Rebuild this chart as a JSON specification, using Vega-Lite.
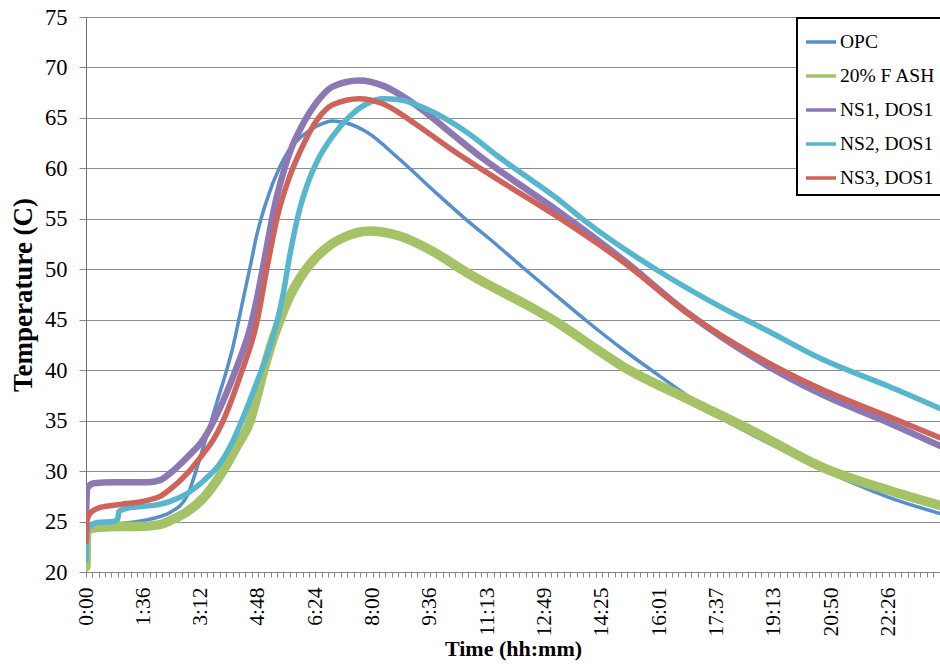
{
  "$schema": "https://vega.github.io/schema/vega-lite/v6.json",
  "width": 854,
  "height": 555,
  "autosize": {"type": "none"},
  "padding": {"left": 86, "top": 17, "right": 0, "bottom": 94},
  "background": "white",
  "config": {"view": {"stroke": null}, "font": "Liberation Serif"},
  "data": {"values": [
    {"series": "OPC", "t": 0, "temp": 23.3}, {"series": "OPC", "t": 4, "temp": 24.2}, {"series": "OPC", "t": 29, "temp": 24.6}, {"series": "OPC", "t": 58, "temp": 24.8}, {"series": "OPC", "t": 86, "temp": 25.0}, {"series": "OPC", "t": 124, "temp": 25.5}, {"series": "OPC", "t": 141, "temp": 25.9}, {"series": "OPC", "t": 170, "temp": 27.6}, {"series": "OPC", "t": 183, "temp": 29.8}, {"series": "OPC", "t": 196, "temp": 32.3}, {"series": "OPC", "t": 208, "temp": 34.6}, {"series": "OPC", "t": 220, "temp": 37.0}, {"series": "OPC", "t": 230, "temp": 38.9}, {"series": "OPC", "t": 246, "temp": 42.3}, {"series": "OPC", "t": 263, "temp": 47.0}, {"series": "OPC", "t": 275, "temp": 50.3}, {"series": "OPC", "t": 286, "temp": 53.4}, {"series": "OPC", "t": 303, "temp": 56.9}, {"series": "OPC", "t": 325, "temp": 60.2}, {"series": "OPC", "t": 341, "temp": 61.9}, {"series": "OPC", "t": 358, "temp": 63.0}, {"series": "OPC", "t": 387, "temp": 64.2}, {"series": "OPC", "t": 413, "temp": 64.7}, {"series": "OPC", "t": 442, "temp": 64.4}, {"series": "OPC", "t": 470, "temp": 63.6}, {"series": "OPC", "t": 525, "temp": 60.9}, {"series": "OPC", "t": 580, "temp": 57.9}, {"series": "OPC", "t": 637, "temp": 54.9}, {"series": "OPC", "t": 676, "temp": 53.0}, {"series": "OPC", "t": 731, "temp": 50.2}, {"series": "OPC", "t": 787, "temp": 47.4}, {"series": "OPC", "t": 842, "temp": 44.7}, {"series": "OPC", "t": 898, "temp": 42.1}, {"series": "OPC", "t": 954, "temp": 39.7}, {"series": "OPC", "t": 1009, "temp": 37.4}, {"series": "OPC", "t": 1065, "temp": 35.2}, {"series": "OPC", "t": 1122, "temp": 33.4}, {"series": "OPC", "t": 1176, "temp": 31.8}, {"series": "OPC", "t": 1232, "temp": 30.2}, {"series": "OPC", "t": 1289, "temp": 28.7}, {"series": "OPC", "t": 1344, "temp": 27.4}, {"series": "OPC", "t": 1430, "temp": 25.8},

    {"series": "20% F ASH", "t": 0, "temp": 20.5}, {"series": "20% F ASH", "t": 1, "temp": 23.8}, {"series": "20% F ASH", "t": 4, "temp": 24.2}, {"series": "20% F ASH", "t": 19, "temp": 24.4}, {"series": "20% F ASH", "t": 58, "temp": 24.5}, {"series": "20% F ASH", "t": 86, "temp": 24.5}, {"series": "20% F ASH", "t": 124, "temp": 24.7}, {"series": "20% F ASH", "t": 141, "temp": 25.1}, {"series": "20% F ASH", "t": 170, "temp": 26.0}, {"series": "20% F ASH", "t": 196, "temp": 27.3}, {"series": "20% F ASH", "t": 225, "temp": 29.6}, {"series": "20% F ASH", "t": 253, "temp": 32.5}, {"series": "20% F ASH", "t": 275, "temp": 35.0}, {"series": "20% F ASH", "t": 286, "temp": 37.3}, {"series": "20% F ASH", "t": 296, "temp": 39.6}, {"series": "20% F ASH", "t": 310, "temp": 42.5}, {"series": "20% F ASH", "t": 325, "temp": 45.0}, {"series": "20% F ASH", "t": 341, "temp": 47.3}, {"series": "20% F ASH", "t": 358, "temp": 49.1}, {"series": "20% F ASH", "t": 375, "temp": 50.5}, {"series": "20% F ASH", "t": 400, "temp": 52.0}, {"series": "20% F ASH", "t": 433, "temp": 53.2}, {"series": "20% F ASH", "t": 475, "temp": 53.8}, {"series": "20% F ASH", "t": 525, "temp": 53.3}, {"series": "20% F ASH", "t": 580, "temp": 51.8}, {"series": "20% F ASH", "t": 637, "temp": 49.7}, {"series": "20% F ASH", "t": 676, "temp": 48.4}, {"series": "20% F ASH", "t": 731, "temp": 46.7}, {"series": "20% F ASH", "t": 787, "temp": 44.8}, {"series": "20% F ASH", "t": 842, "temp": 42.6}, {"series": "20% F ASH", "t": 898, "temp": 40.4}, {"series": "20% F ASH", "t": 1009, "temp": 37.1}, {"series": "20% F ASH", "t": 1122, "temp": 33.8}, {"series": "20% F ASH", "t": 1232, "temp": 30.4}, {"series": "20% F ASH", "t": 1344, "temp": 28.1}, {"series": "20% F ASH", "t": 1430, "temp": 26.6},

    {"series": "NS1, DOS1", "t": 0, "temp": 25.9}, {"series": "NS1, DOS1", "t": 1, "temp": 27.4}, {"series": "NS1, DOS1", "t": 2, "temp": 28.3}, {"series": "NS1, DOS1", "t": 13, "temp": 28.8}, {"series": "NS1, DOS1", "t": 46, "temp": 28.9}, {"series": "NS1, DOS1", "t": 103, "temp": 28.9}, {"series": "NS1, DOS1", "t": 124, "temp": 29.1}, {"series": "NS1, DOS1", "t": 141, "temp": 29.8}, {"series": "NS1, DOS1", "t": 170, "temp": 31.4}, {"series": "NS1, DOS1", "t": 196, "temp": 33.1}, {"series": "NS1, DOS1", "t": 208, "temp": 34.3}, {"series": "NS1, DOS1", "t": 220, "temp": 35.7}, {"series": "NS1, DOS1", "t": 253, "temp": 40.4}, {"series": "NS1, DOS1", "t": 275, "temp": 44.2}, {"series": "NS1, DOS1", "t": 291, "temp": 48.5}, {"series": "NS1, DOS1", "t": 303, "temp": 52.3}, {"series": "NS1, DOS1", "t": 316, "temp": 56.3}, {"series": "NS1, DOS1", "t": 330, "temp": 59.5}, {"series": "NS1, DOS1", "t": 346, "temp": 62.3}, {"series": "NS1, DOS1", "t": 358, "temp": 63.8}, {"series": "NS1, DOS1", "t": 387, "temp": 66.6}, {"series": "NS1, DOS1", "t": 413, "temp": 68.1}, {"series": "NS1, DOS1", "t": 458, "temp": 68.7}, {"series": "NS1, DOS1", "t": 497, "temp": 68.2}, {"series": "NS1, DOS1", "t": 554, "temp": 66.2}, {"series": "NS1, DOS1", "t": 609, "temp": 63.6}, {"series": "NS1, DOS1", "t": 664, "temp": 61.0}, {"series": "NS1, DOS1", "t": 692, "temp": 59.8}, {"series": "NS1, DOS1", "t": 787, "temp": 55.9}, {"series": "NS1, DOS1", "t": 898, "temp": 51.0}, {"series": "NS1, DOS1", "t": 1009, "temp": 45.6}, {"series": "NS1, DOS1", "t": 1122, "temp": 41.1}, {"series": "NS1, DOS1", "t": 1232, "temp": 37.6}, {"series": "NS1, DOS1", "t": 1344, "temp": 34.8}, {"series": "NS1, DOS1", "t": 1430, "temp": 32.5},

    {"series": "NS2, DOS1", "t": 0, "temp": 21.2}, {"series": "NS2, DOS1", "t": 1, "temp": 23.5}, {"series": "NS2, DOS1", "t": 4, "temp": 24.4}, {"series": "NS2, DOS1", "t": 19, "temp": 24.9}, {"series": "NS2, DOS1", "t": 46, "temp": 25.0}, {"series": "NS2, DOS1", "t": 53, "temp": 25.2}, {"series": "NS2, DOS1", "t": 55, "temp": 26.0}, {"series": "NS2, DOS1", "t": 74, "temp": 26.4}, {"series": "NS2, DOS1", "t": 113, "temp": 26.6}, {"series": "NS2, DOS1", "t": 141, "temp": 27.0}, {"series": "NS2, DOS1", "t": 170, "temp": 27.8}, {"series": "NS2, DOS1", "t": 196, "temp": 29.0}, {"series": "NS2, DOS1", "t": 225, "temp": 30.8}, {"series": "NS2, DOS1", "t": 246, "temp": 33.0}, {"series": "NS2, DOS1", "t": 258, "temp": 34.6}, {"series": "NS2, DOS1", "t": 286, "temp": 38.8}, {"series": "NS2, DOS1", "t": 313, "temp": 43.3}, {"series": "NS2, DOS1", "t": 330, "temp": 47.5}, {"series": "NS2, DOS1", "t": 341, "temp": 51.3}, {"series": "NS2, DOS1", "t": 358, "temp": 56.0}, {"series": "NS2, DOS1", "t": 370, "temp": 58.3}, {"series": "NS2, DOS1", "t": 387, "temp": 60.7}, {"series": "NS2, DOS1", "t": 413, "temp": 63.2}, {"series": "NS2, DOS1", "t": 442, "temp": 65.2}, {"series": "NS2, DOS1", "t": 470, "temp": 66.4}, {"series": "NS2, DOS1", "t": 497, "temp": 66.9}, {"series": "NS2, DOS1", "t": 525, "temp": 66.8}, {"series": "NS2, DOS1", "t": 580, "temp": 65.6}, {"series": "NS2, DOS1", "t": 637, "temp": 63.6}, {"series": "NS2, DOS1", "t": 692, "temp": 61.1}, {"series": "NS2, DOS1", "t": 787, "temp": 57.1}, {"series": "NS2, DOS1", "t": 842, "temp": 54.5}, {"series": "NS2, DOS1", "t": 954, "temp": 50.0}, {"series": "NS2, DOS1", "t": 1065, "temp": 46.2}, {"series": "NS2, DOS1", "t": 1138, "temp": 44.0}, {"series": "NS2, DOS1", "t": 1232, "temp": 41.1}, {"series": "NS2, DOS1", "t": 1344, "temp": 38.4}, {"series": "NS2, DOS1", "t": 1430, "temp": 36.2},

    {"series": "NS3, DOS1", "t": 0, "temp": 23.0}, {"series": "NS3, DOS1", "t": 2, "temp": 25.2}, {"series": "NS3, DOS1", "t": 8, "temp": 25.9}, {"series": "NS3, DOS1", "t": 24, "temp": 26.4}, {"series": "NS3, DOS1", "t": 58, "temp": 26.7}, {"series": "NS3, DOS1", "t": 103, "temp": 27.1}, {"series": "NS3, DOS1", "t": 124, "temp": 27.5}, {"series": "NS3, DOS1", "t": 141, "temp": 28.2}, {"series": "NS3, DOS1", "t": 170, "temp": 29.8}, {"series": "NS3, DOS1", "t": 196, "temp": 31.7}, {"series": "NS3, DOS1", "t": 213, "temp": 33.1}, {"series": "NS3, DOS1", "t": 225, "temp": 34.4}, {"series": "NS3, DOS1", "t": 258, "temp": 39.4}, {"series": "NS3, DOS1", "t": 286, "temp": 44.7}, {"series": "NS3, DOS1", "t": 303, "temp": 50.1}, {"series": "NS3, DOS1", "t": 320, "temp": 55.1}, {"series": "NS3, DOS1", "t": 341, "temp": 59.2}, {"series": "NS3, DOS1", "t": 358, "temp": 61.6}, {"series": "NS3, DOS1", "t": 387, "temp": 64.8}, {"series": "NS3, DOS1", "t": 413, "temp": 66.3}, {"series": "NS3, DOS1", "t": 458, "temp": 66.9}, {"series": "NS3, DOS1", "t": 497, "temp": 66.4}, {"series": "NS3, DOS1", "t": 554, "temp": 64.3}, {"series": "NS3, DOS1", "t": 609, "temp": 62.0}, {"series": "NS3, DOS1", "t": 676, "temp": 59.4}, {"series": "NS3, DOS1", "t": 787, "temp": 55.3}, {"series": "NS3, DOS1", "t": 898, "temp": 50.8}, {"series": "NS3, DOS1", "t": 1009, "temp": 45.6}, {"series": "NS3, DOS1", "t": 1122, "temp": 41.4}, {"series": "NS3, DOS1", "t": 1232, "temp": 38.1}, {"series": "NS3, DOS1", "t": 1344, "temp": 35.4}, {"series": "NS3, DOS1", "t": 1430, "temp": 33.3}
  ]},
  "encoding": {
    "x": {
      "field": "t", "type": "quantitative",
      "scale": {"domain": [0, 1430], "nice": false, "zero": false},
      "axis": {
        "title": "Time (hh:mm)", "titleFont": "Liberation Serif", "titleFontSize": 22, "titleFontWeight": "bold", "titleColor": "black", "titlePadding": 3,
        "values": [0,10.67,21.33,32,42.67,53.33,64,74.67,85.33,96,106.67,117.33,128,138.67,149.33,160,170.67,181.33,192,202.67,213.33,224,234.67,245.33,256,266.67,277.33,288,298.67,309.33,320,330.67,341.33,352,362.67,373.33,384,394.67,405.33,416,426.67,437.33,448,458.67,469.33,480,490.67,501.33,512,522.67,533.33,544,554.67,565.33,576,586.67,597.33,608,618.67,629.33,640,650.67,661.33,672,682.67,693.33,704,714.67,725.33,736,746.67,757.33,768,778.67,789.33,800,810.67,821.33,832,842.67,853.33,864,874.67,885.33,896,906.67,917.33,928,938.67,949.33,960,970.67,981.33,992,1002.67,1013.33,1024,1034.67,1045.33,1056,1066.67,1077.33,1088,1098.67,1109.33,1120,1130.67,1141.33,1152,1162.67,1173.33,1184,1194.67,1205.33,1216,1226.67,1237.33,1248,1258.67,1269.33,1280,1290.67,1301.33,1312,1322.67,1333.33,1344,1354.67,1365.33,1376,1386.67,1397.33,1408,1418.67,1429.33],
        "labelExpr": "abs(datum.value/96 - round(datum.value/96)) < 0.001 ? ['0:00','1:36','3:12','4:48','6:24','8:00','9:36','11:13','12:49','14:25','16:01','17:37','19:13','20:50','22:26'][round(datum.value/96)] : ''",
        "labelAngle": 270, "labelFont": "Liberation Serif", "labelFontSize": 21.5, "labelColor": "black", "labelOverlap": false, "labelPadding": 10, "labelBound": false, "labelFlush": false,
        "tickSize": 5, "tickColor": "#868686", "domainColor": "#868686", "domainWidth": 1, "grid": false
      }
    },
    "y": {
      "field": "temp", "type": "quantitative",
      "scale": {"domain": [20, 75], "nice": false, "zero": false},
      "axis": {
        "title": "Temperature (C)", "titleFont": "Liberation Serif", "titleFontSize": 27, "titleFontWeight": "bold", "titleColor": "black", "titlePadding": 7,
        "values": [20,25,30,35,40,45,50,55,60,65,70,75],
        "labelFont": "Liberation Serif", "labelFontSize": 22.5, "labelColor": "black", "labelPadding": 12,
        "tickSize": 7, "tickColor": "#868686", "domainColor": "#707070", "grid": true, "gridColor": "#8c8c8c", "gridWidth": 1
      }
    },
    "color": {
      "field": "series", "type": "nominal",
      "scale": {"domain": ["OPC", "20% F ASH", "NS1, DOS1", "NS2, DOS1", "NS3, DOS1"], "range": ["#5590CC", "#A6C266", "#8E78B4", "#55B6CD", "#CD635A"]},
      "legend": {
        "title": null, "orient": "none", "legendX": 711, "legendY": 1,
        "strokeColor": "black", "fillColor": "white", "padding": 7,
        "labelFont": "Liberation Serif", "labelFontSize": 19.5, "labelColor": "black", "labelOffset": 2,
        "symbolType": "stroke", "symbolSize": 900, "symbolStrokeWidth": 3.5, "rowPadding": 7,
        "encode": {"legend": {"update": {"strokeWidth": {"value": 2}}}}
      }
    }
  },
  "layer": [
    {"transform": [{"filter": "datum.series === 'OPC'"}], "mark": {"type": "line", "interpolate": "monotone", "clip": true, "strokeCap": "round", "strokeJoin": "round", "strokeWidth": 3.5}},
    {"transform": [{"filter": "datum.series === '20% F ASH'"}], "mark": {"type": "line", "interpolate": "monotone", "clip": true, "strokeCap": "round", "strokeJoin": "round", "strokeWidth": 9.5}},
    {"transform": [{"filter": "datum.series === 'NS1, DOS1'"}], "mark": {"type": "line", "interpolate": "monotone", "clip": true, "strokeCap": "round", "strokeJoin": "round", "strokeWidth": 6.5}},
    {"transform": [{"filter": "datum.series === 'NS2, DOS1'"}], "mark": {"type": "line", "interpolate": "monotone", "clip": true, "strokeCap": "round", "strokeJoin": "round", "strokeWidth": 5.5}},
    {"transform": [{"filter": "datum.series === 'NS3, DOS1'"}], "mark": {"type": "line", "interpolate": "monotone", "clip": true, "strokeCap": "round", "strokeJoin": "round", "strokeWidth": 5.5}}
  ]
}
